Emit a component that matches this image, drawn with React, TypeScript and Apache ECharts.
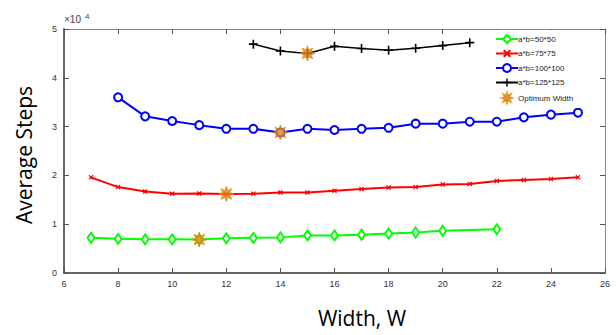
import React, { useEffect, useRef } from "react";
import * as echarts from "echarts";

const widths50 = [7, 8, 9, 10, 11, 12, 13, 14, 15, 16, 17, 18, 19, 20, 22];
const steps50 = [7200, 7000, 6900, 6900, 6850, 7100, 7200, 7300, 7700, 7700, 7850, 8100, 8300, 8650, 8950];

const widths75 = [7, 8, 9, 10, 11, 12, 13, 14, 15, 16, 17, 18, 19, 20, 21, 22, 23, 24, 25];
const steps75 = [19600, 17600, 16700, 16250, 16300, 16200, 16250, 16500, 16500, 16850, 17200, 17500, 17600, 18150, 18250, 18850, 19050, 19250, 19600];

const widths100 = [8, 9, 10, 11, 12, 13, 14, 15, 16, 17, 18, 19, 20, 21, 22, 23, 24, 25];
const steps100 = [36000, 32100, 31150, 30300, 29550, 29550, 28800, 29550, 29300, 29550, 29750, 30600, 30600, 31000, 31000, 31900, 32450, 32850];

const widths125 = [13, 14, 15, 16, 17, 18, 19, 20, 21];
const steps125 = [46900, 45500, 45000, 46450, 46000, 45650, 46050, 46600, 47200];

const optWidths = [11, 12, 14, 15];
const optSteps = [6850, 16200, 28800, 45000];

const seriesNames = ["a*b=50*50", "a*b=75*75", "a*b=100*100", "a*b=125*125", "Optimum Width"];
const xTicks = { min: 6, max: 26, interval: 2 };
const yTicks = { min: 0, max: 50000, interval: 10000 };

const pairs = (xs: number[], ys: number[]) => xs.map((x, i) => [x, ys[i]]);

function starPath(): string {
  const pts: string[] = [];
  for (let i = 0; i < 16; i++) {
    const a = (Math.PI * 2 * i) / 16 - Math.PI / 2;
    const r = i % 2 === 0 ? 10 : 4.8;
    pts.push(`${(10 + r * Math.cos(a)).toFixed(2)},${(10 + r * Math.sin(a)).toFixed(2)}`);
  }
  return "path://M" + pts.join(" L") + " Z";
}

const PLUS = "path://M4.1,0 L5.9,0 L5.9,4.1 L10,4.1 L10,5.9 L5.9,5.9 L5.9,10 L4.1,10 L4.1,5.9 L0,5.9 L0,4.1 L4.1,4.1 Z";
const XMARK = "path://M0,1.8 L1.8,0 L5,3.2 L8.2,0 L10,1.8 L6.8,5 L10,8.2 L8.2,10 L5,6.8 L1.8,10 L0,8.2 L3.2,5 Z";

export default function App() {
  const ref = useRef<HTMLDivElement>(null);
  useEffect(() => {
    if (!ref.current) return;
    const chart = echarts.init(ref.current, undefined, { renderer: "svg" });
    const axisLabel = { color: "#333", fontSize: 9, fontFamily: "Liberation Sans, Arial" };
    const tick = { inside: true, length: 5, lineStyle: { color: "#555" } };
    chart.setOption({
      animation: false,
      backgroundColor: "#fff",
      grid: { left: 64, right: 11, top: 29, bottom: 62 },
      xAxis: [
        {
          type: "value", ...xTicks, position: "bottom",
          axisLine: { show: true, onZero: false, lineStyle: { color: "#666", width: 2 } },
          axisTick: tick, splitLine: { show: false },
          axisLabel: { ...axisLabel, margin: 6 },
        },
        {
          type: "value", ...xTicks, position: "top",
          axisLine: { show: true, onZero: false, lineStyle: { color: "#888", width: 1 } },
          axisTick: tick, splitLine: { show: false }, axisLabel: { show: false },
        },
      ],
      yAxis: [
        {
          type: "value", ...yTicks, position: "left",
          axisLine: { show: true, onZero: false, lineStyle: { color: "#666", width: 2 } },
          axisTick: tick, splitLine: { show: false },
          axisLabel: { ...axisLabel, margin: 7, formatter: (v: number) => String(v / 10000) },
        },
        {
          type: "value", ...yTicks, position: "right",
          axisLine: { show: true, onZero: false, lineStyle: { color: "#888", width: 1 } },
          axisTick: tick, splitLine: { show: false }, axisLabel: { show: false },
        },
      ],
      legend: {
        orient: "vertical", left: 490, top: 30, padding: [4, 6, 4, 5],
        backgroundColor: "#fff", itemWidth: 22, itemHeight: 10, itemGap: 5.5,
        textStyle: { fontSize: 8, color: "#222", fontFamily: "Liberation Sans, Arial", padding: [0, 0, 0, -5] },
        data: seriesNames,
      },
      series: [
        {
          name: seriesNames[0], type: "line", data: pairs(widths50, steps50),
          symbol: "emptyDiamond", symbolSize: [7, 10],
          lineStyle: { color: "#00ff00", width: 2 }, itemStyle: { color: "#00ff00", borderWidth: 1.5 }, z: 3,
        },
        {
          name: seriesNames[1], type: "line", data: pairs(widths75, steps75),
          symbol: XMARK, symbolSize: 5,
          lineStyle: { color: "#ff0000", width: 2 }, itemStyle: { color: "#ff0000" }, z: 3,
        },
        {
          name: seriesNames[2], type: "line", data: pairs(widths100, steps100),
          symbol: "emptyCircle", symbolSize: 8,
          lineStyle: { color: "#0000ff", width: 2 }, itemStyle: { color: "#0000ff", borderWidth: 2 }, z: 3,
        },
        {
          name: seriesNames[3], type: "line", data: pairs(widths125, steps125),
          symbol: PLUS, symbolSize: 9,
          lineStyle: { color: "#000", width: 1.5 }, itemStyle: { color: "#000" }, z: 3,
        },
        {
          name: seriesNames[4], type: "scatter", data: pairs(optWidths, optSteps),
          symbol: starPath(), symbolSize: 15,
          itemStyle: { color: "#e0850f", borderColor: "#e0850f", borderWidth: 1 }, z: 10,
        },
      ],
      graphic: [
        {
          type: "text", left: 64, top: 12,
          style: {
            text: "{a|×10}{b|4}", rich: {
              a: { fontSize: 10, fill: "#444", fontFamily: "Liberation Sans, Arial", padding: [6, 0, 0, 0] },
              b: { fontSize: 8, fill: "#444", fontFamily: "Liberation Sans, Arial", padding: [0, 0, 0, 4] },
            },
          },
        },
        {
          type: "text", x: 24, y: 155, rotation: Math.PI / 2,
          style: { text: "Average Steps", fontSize: 21, fontFamily: "Open Sans", fill: "#000", align: "center", verticalAlign: "middle" },
        },
        {
          type: "text", x: 362, y: 318,
          style: { text: "Width, W", fontSize: 21, fontFamily: "Open Sans", fill: "#000", align: "center", verticalAlign: "middle" },
        },
      ],
    });
    return () => chart.dispose();
  }, []);
  return <div ref={ref} style={{ width: 616, height: 335, position: "absolute", left: 0, top: 0 }} />;
}
